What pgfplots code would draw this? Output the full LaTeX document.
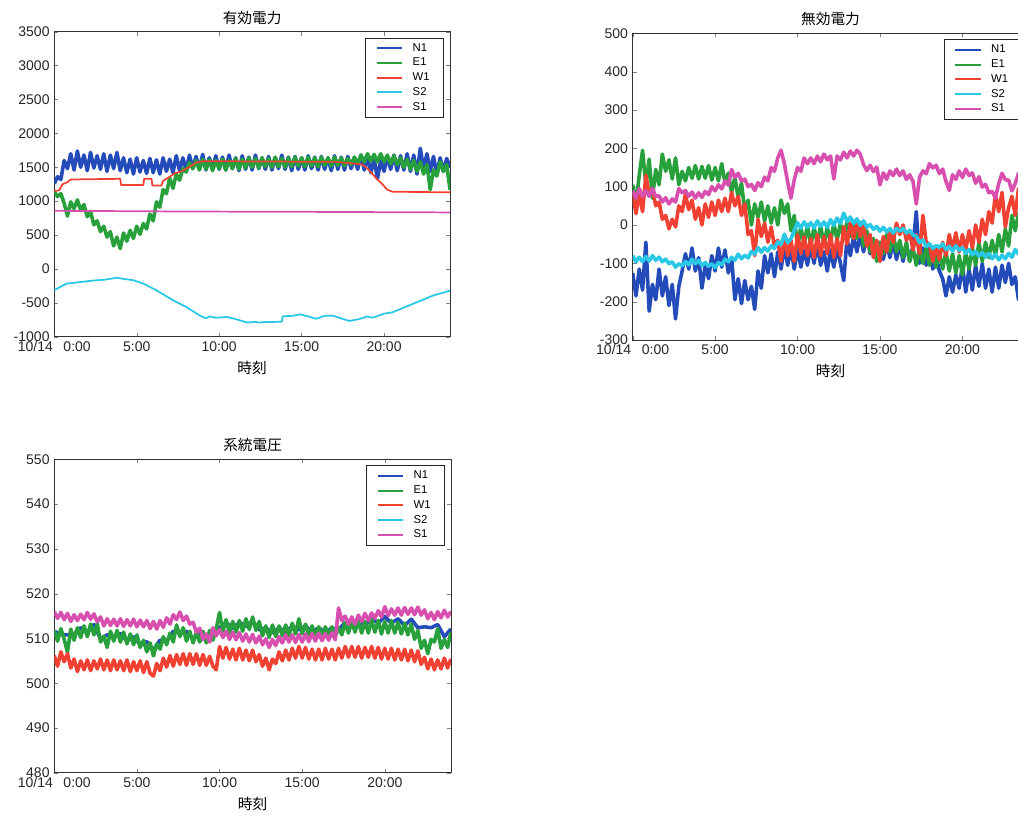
\documentclass[border=0pt]{standalone}
\usepackage{pgfplots}
\pgfplotsset{compat=1.18}
\usepackage{fontspec}
\setmainfont{Liberation Sans}
\newfontfamily\jp{Noto Sans CJK JP}
\definecolor{cN}{RGB}{35,75,185}
\definecolor{cE}{RGB}{40,160,60}
\definecolor{cW}{RGB}{240,65,50}
\definecolor{cS2}{RGB}{40,200,230}
\definecolor{cS1}{RGB}{215,80,175}
\pgfplotsset{
  noisy/.style={sharp plot, line width=2.7pt},
  smooth line/.style={line width=1.3pt},
  mystyle/.style={
    scale only axis,
    xmin=0, xmax=24,
    xtick={0,5,10,15,20},
    xticklabels={10/14\hspace{8pt}0:00,5:00,10:00,15:00,20:00},
    tick align=inside, major tick length=3pt,
    tick label style={font=\fontsize{10.5}{12}\selectfont, text=black!85},
    /pgf/number format/assume math mode=true,
    /pgf/number format/1000 sep={},
    axis line style={line width=0.6pt, black!80},
    xlabel={時刻},
    xlabel style={font=\jp\fontsize{11}{13}\selectfont},
    title style={font=\jp\fontsize{11}{13}\selectfont, yshift=-4pt},
    legend style={at={(1,1)}, anchor=north east, xshift=-5pt, yshift=-4.5pt,
      font=\fontsize{8.5}{10}\selectfont, draw=black!85,
      cells={anchor=west}, inner xsep=8pt, inner ysep=2pt, row sep=-0.3pt,
      column sep=5pt},
    legend image code/.code={\draw[#1] (0pt,0pt) -- (19pt,0pt);},
    every axis plot/.append style={line join=round},
    lg/.style={line width=1.5pt},
  }
}
\begin{document}
\begin{tikzpicture}
\useasboundingbox (0,0) rectangle (763.5pt,611.25pt);
% ---------------- 有効電力 ----------------
\begin{axis}[mystyle, at={(40.7pt,358.7pt)}, anchor=south west,
  width=296.8pt, height=228.75pt,
  ymin=-1000, ymax=3500, ytick={-1000,-500,...,3500},
  title={有効電力}]
\addlegendimage{color=cN, lg}\addlegendentry{N1}
\addlegendimage{color=cE, lg}\addlegendentry{E1}
\addlegendimage{color=cW, lg}\addlegendentry{W1}
\addlegendimage{color=cS2, lg}\addlegendentry{S2}
\addlegendimage{color=cS1, lg}\addlegendentry{S1}
\addplot[cN, noisy, forget plot] coordinates {(0,1260)(0.2,1360)(0.4,1320)(0.6,1600)(0.8,1480)(1.0,1700)(1.2,1460)(1.4,1740)(1.6,1500)(1.8,1680)(2.0,1450)(2.2,1720)(2.4,1490)(2.6,1670)(2.8,1470)(3.0,1700)(3.2,1440)(3.4,1680)(3.6,1480)(3.8,1720)(4.0,1450)(4.2,1640)(4.4,1420)(4.6,1620)(4.8,1400)(5.0,1640)(5.2,1430)(5.4,1600)(5.6,1410)(5.8,1630)(6.0,1420)(6.2,1610)(6.4,1400)(6.6,1640)(6.8,1440)(7.0,1620)(7.2,1420)(7.4,1670)(7.6,1450)(7.8,1640)(8.0,1460)(8.2,1680)(8.4,1480)(8.6,1660)(8.8,1470)(9.0,1690)(9.2,1460)(9.4,1640)(9.6,1480)(9.8,1670)(10.0,1470)(10.2,1650)(10.4,1460)(10.6,1680)(10.8,1480)(11.0,1640)(11.2,1450)(11.4,1670)(11.6,1470)(11.8,1650)(12.0,1460)(12.2,1680)(12.4,1480)(12.6,1640)(12.8,1470)(13.0,1660)(13.2,1460)(13.4,1640)(13.6,1480)(13.8,1680)(14.0,1470)(14.2,1650)(14.4,1450)(14.6,1660)(14.8,1470)(15.0,1640)(15.2,1460)(15.4,1670)(15.6,1480)(15.8,1650)(16.0,1460)(16.2,1660)(16.4,1470)(16.6,1640)(16.8,1450)(17.0,1670)(17.2,1470)(17.4,1650)(17.6,1460)(17.8,1660)(18.0,1480)(18.2,1640)(18.4,1470)(18.6,1680)(18.8,1460)(19.0,1650)(19.2,1420)(19.4,1620)(19.6,1330)(19.8,1600)(20.0,1440)(20.2,1660)(20.4,1470)(20.6,1680)(20.8,1450)(21.0,1670)(21.2,1460)(21.4,1700)(21.6,1440)(21.8,1680)(22.0,1400)(22.2,1780)(22.4,1470)(22.6,1700)(22.8,1440)(23.0,1660)(23.2,1400)(23.4,1640)(23.6,1440)(23.8,1630)(24.0,1500)};
\addplot[cE, noisy, forget plot] coordinates {(0,1140)(0.2,1070)(0.4,1110)(0.6,970)(0.8,780)(1.0,990)(1.2,890)(1.4,1020)(1.6,870)(1.8,950)(2.0,770)(2.2,850)(2.4,650)(2.6,710)(2.8,550)(3.0,630)(3.2,470)(3.4,550)(3.6,340)(3.8,470)(4.0,300)(4.2,530)(4.4,410)(4.6,570)(4.8,450)(5.0,630)(5.2,510)(5.4,670)(5.6,590)(5.8,810)(6.0,710)(6.2,990)(6.4,910)(6.6,1170)(6.8,1110)(7.0,1340)(7.2,1190)(7.4,1400)(7.6,1310)(7.8,1480)(8.0,1430)(8.2,1570)(8.4,1480)(8.6,1600)(8.8,1460)(9.0,1620)(9.2,1470)(9.4,1610)(9.6,1450)(9.8,1600)(10.0,1480)(10.2,1620)(10.4,1460)(10.6,1600)(10.8,1480)(11.0,1630)(11.2,1470)(11.4,1620)(11.6,1490)(11.8,1640)(12.0,1500)(12.2,1630)(12.4,1490)(12.6,1640)(12.8,1510)(13.0,1630)(13.2,1500)(13.4,1650)(13.6,1510)(13.8,1630)(14.0,1500)(14.2,1640)(14.4,1510)(14.6,1650)(14.8,1520)(15.0,1640)(15.2,1510)(15.4,1650)(15.6,1520)(15.8,1640)(16.0,1510)(16.2,1650)(16.4,1530)(16.6,1640)(16.8,1520)(17.0,1650)(17.2,1530)(17.4,1640)(17.6,1520)(17.8,1630)(18.0,1540)(18.2,1650)(18.4,1550)(18.6,1680)(18.8,1580)(19.0,1700)(19.2,1590)(19.4,1690)(19.6,1580)(19.8,1700)(20.0,1580)(20.2,1680)(20.4,1550)(20.6,1670)(20.8,1540)(21.0,1640)(21.2,1500)(21.4,1620)(21.6,1470)(21.8,1600)(22.0,1440)(22.2,1580)(22.4,1400)(22.6,1540)(22.8,1170)(23.0,1460)(23.2,1370)(23.4,1580)(23.6,1440)(23.8,1540)(24.0,1170)};
\addplot[cW, smooth line, forget plot] coordinates {(0,1150)(0.3,1160)(0.5,1250)(0.8,1280)(1.0,1320)(4.0,1330)(4.05,1240)(5.4,1240)(5.45,1330)(5.9,1330)(5.95,1230)(6.5,1230)(6.6,1300)(7.0,1360)(7.3,1410)(7.7,1440)(8.0,1480)(8.3,1520)(8.6,1570)(9.0,1590)(17.0,1580)(18.0,1560)(18.7,1540)(19.0,1480)(19.3,1400)(19.6,1320)(19.9,1250)(20.2,1170)(20.5,1140)(24,1130)};
\addplot[cS2, smooth line, forget plot] coordinates {(0,-315)(0.4,-260)(0.75,-216)(1.35,-200)(2.4,-170)(3.0,-160)(3.8,-130)(4.3,-150)(4.8,-167)(5.4,-216)(6.2,-315)(7.2,-462)(8.0,-560)(8.8,-684)(9.2,-730)(9.4,-700)(9.8,-720)(10.5,-708)(11.0,-740)(11.7,-790)(12.2,-780)(12.4,-790)(12.9,-782)(13.8,-780)(13.85,-700)(14.5,-690)(14.9,-670)(15.4,-700)(15.9,-735)(16.4,-690)(16.9,-690)(17.4,-730)(17.9,-767)(18.5,-740)(19.0,-700)(19.3,-720)(20.0,-660)(20.5,-640)(21.0,-590)(22.0,-490)(23.0,-390)(24,-320)};
\addplot[cS1, smooth line, forget plot] coordinates {(0,858)(2,855)(4,853)(6,850)(8,848)(10,846)(12,845)(14,843)(16,842)(18,840)(20,838)(22,836)(24,834)};
\end{axis}
% ---------------- 無効電力 ----------------
\begin{axis}[mystyle, at={(474.5pt,356.25pt)}, anchor=south west,
  width=296.8pt, height=230pt,
  ymin=-300, ymax=500, ytick={-300,-200,...,500},
  title={無効電力}]
\addlegendimage{color=cN, lg}\addlegendentry{N1}
\addlegendimage{color=cE, lg}\addlegendentry{E1}
\addlegendimage{color=cW, lg}\addlegendentry{W1}
\addlegendimage{color=cS2, lg}\addlegendentry{S2}
\addlegendimage{color=cS1, lg}\addlegendentry{S1}
\addplot[cN, noisy, forget plot] coordinates {(0,-125)(0.2,-185)(0.4,-115)(0.6,-170)(0.8,-45)(1.0,-225)(1.2,-155)(1.4,-195)(1.6,-115)(1.8,-185)(2.0,-135)(2.2,-210)(2.4,-155)(2.6,-245)(2.8,-160)(3.0,-120)(3.2,-75)(3.4,-115)(3.6,-60)(3.8,-120)(4.0,-85)(4.2,-165)(4.4,-105)(4.6,-140)(4.8,-80)(5.0,-120)(5.2,-60)(5.4,-110)(5.6,-65)(5.8,-125)(6.0,-85)(6.2,-195)(6.4,-140)(6.6,-205)(6.8,-145)(7.0,-195)(7.2,-160)(7.4,-220)(7.6,-120)(7.8,-165)(8.0,-80)(8.2,-125)(8.4,-75)(8.6,-135)(8.8,-70)(9.0,-115)(9.2,-55)(9.4,-105)(9.6,-60)(9.8,-115)(10.0,-60)(10.2,-110)(10.4,-65)(10.6,-105)(10.8,-55)(11.0,-100)(11.2,-50)(11.4,-105)(11.6,-70)(11.8,-120)(12.0,-65)(12.2,-110)(12.4,-60)(12.6,-100)(12.8,-145)(13.0,-35)(13.2,-80)(13.4,-30)(13.6,-70)(13.8,-25)(14.0,-70)(14.2,-25)(14.4,-75)(14.6,-40)(14.8,-85)(15.0,-45)(15.2,-90)(15.4,-45)(15.6,-85)(15.8,-45)(16.0,-90)(16.2,-50)(16.4,-95)(16.6,-50)(16.8,-95)(17.0,-55)(17.2,35)(17.4,-100)(17.6,-60)(17.8,-105)(18.0,-60)(18.2,-115)(18.4,-80)(18.6,-120)(18.8,-140)(19.0,-185)(19.2,-135)(19.4,-175)(19.6,-130)(19.8,-165)(20.0,-105)(20.2,-175)(20.4,-115)(20.6,-170)(20.8,-105)(21.0,-160)(21.2,-100)(21.4,-165)(21.6,-115)(21.8,-175)(22.0,-110)(22.2,-165)(22.4,-105)(22.6,-150)(22.8,-100)(23.0,-155)(23.2,-135)(23.4,-195)(23.6,-140)(23.8,-190)(24.0,-145)};
\addplot[cE, noisy, forget plot] coordinates {(0,105)(0.2,55)(0.4,130)(0.6,195)(0.8,105)(1.0,172)(1.2,70)(1.4,145)(1.6,105)(1.8,185)(2.0,140)(2.2,170)(2.4,120)(2.6,175)(2.8,105)(3.0,140)(3.2,115)(3.4,150)(3.6,122)(3.8,155)(4.0,120)(4.2,153)(4.4,122)(4.6,155)(4.8,117)(5.0,150)(5.2,115)(5.4,160)(5.6,110)(5.8,135)(6.0,85)(6.2,125)(6.4,70)(6.6,110)(6.8,35)(7.0,65)(7.2,0)(7.4,55)(7.6,20)(7.8,60)(8.0,10)(8.2,50)(8.4,5)(8.6,45)(8.8,0)(9.0,65)(9.2,30)(9.4,55)(9.6,-15)(9.8,25)(10.0,-60)(10.2,-5)(10.4,-50)(10.6,0)(10.8,-55)(11.0,-5)(11.2,-50)(11.4,0)(11.6,-55)(11.8,-5)(12.0,-45)(12.2,5)(12.4,-40)(12.6,5)(12.8,-35)(13.0,10)(13.2,-30)(13.4,10)(13.6,-35)(13.8,5)(14.0,-55)(14.2,-15)(14.4,-70)(14.6,-35)(14.8,-95)(15.0,-45)(15.2,-75)(15.4,-25)(15.6,-70)(15.8,-25)(16.0,-70)(16.2,-40)(16.4,-85)(16.6,-45)(16.8,-95)(17.0,-60)(17.2,-105)(17.4,-60)(17.6,-100)(17.8,-60)(18.0,-105)(18.2,-65)(18.4,-110)(18.6,-70)(18.8,-115)(19.0,-70)(19.2,-120)(19.4,-75)(19.6,-125)(19.8,-80)(20.0,-130)(20.2,-70)(20.4,-115)(20.6,-60)(20.8,-105)(21.0,-45)(21.2,-95)(21.4,-45)(21.6,-85)(21.8,-40)(22.0,-80)(22.2,-25)(22.4,-70)(22.6,-10)(22.8,-55)(23.0,25)(23.2,-15)(23.4,30)(23.6,-5)(23.8,35)(24.0,0)};
\addplot[cW, noisy, forget plot] coordinates {(0,85)(0.2,30)(0.4,80)(0.6,35)(0.8,130)(1.0,80)(1.2,95)(1.4,50)(1.6,60)(1.8,15)(2.0,25)(2.2,-10)(2.4,15)(2.6,-5)(2.8,50)(3.0,35)(3.2,80)(3.4,40)(3.6,65)(3.8,15)(4.0,45)(4.2,0)(4.4,55)(4.6,20)(4.8,60)(5.0,25)(5.2,65)(5.4,35)(5.6,70)(5.8,35)(6.0,85)(6.2,50)(6.4,75)(6.6,25)(6.8,55)(7.0,-25)(7.2,-15)(7.4,-80)(7.6,15)(7.8,-30)(8.0,5)(8.2,-45)(8.4,-5)(8.6,-55)(8.8,-40)(9.0,-95)(9.2,-30)(9.4,-80)(9.6,-40)(9.8,-95)(10.0,-25)(10.2,-75)(10.4,-30)(10.6,-80)(10.8,-35)(11.0,-85)(11.2,-25)(11.4,-80)(11.6,-30)(11.8,-75)(12.0,-25)(12.2,-85)(12.4,-35)(12.6,-80)(12.8,-5)(13.0,-50)(13.2,5)(13.4,-35)(13.6,15)(13.8,-30)(14.0,0)(14.2,-55)(14.4,-25)(14.6,-85)(14.8,-40)(15.0,-95)(15.2,-30)(15.4,-70)(15.6,-10)(15.8,-45)(16.0,5)(16.2,-25)(16.4,0)(16.6,-40)(16.8,-20)(17.0,-65)(17.2,-25)(17.4,-75)(17.6,25)(17.8,-45)(18.0,-50)(18.2,-95)(18.4,-55)(18.6,-90)(18.8,-45)(19.0,-80)(19.2,-25)(19.4,-65)(19.6,-20)(19.8,-70)(20.0,-25)(20.2,-65)(20.4,-15)(20.6,-60)(20.8,0)(21.0,-45)(21.2,15)(21.4,-25)(21.6,35)(21.8,5)(22.0,80)(22.2,35)(22.4,85)(22.6,-5)(22.8,45)(23.0,75)(23.2,25)(23.4,95)(23.6,45)(23.8,85)(24.0,55)};
\addplot[cS2, noisy, forget plot] coordinates {(0,-80)(0.2,-96)(0.4,-84)(0.6,-96)(0.8,-82)(1.0,-94)(1.2,-80)(1.4,-92)(1.6,-84)(1.8,-96)(2.0,-89)(2.2,-101)(2.4,-96)(2.6,-110)(2.8,-101)(3.0,-107)(3.2,-95)(3.4,-104)(3.6,-89)(3.8,-101)(4.0,-92)(4.2,-106)(4.4,-98)(4.6,-108)(4.8,-101)(5.0,-111)(5.2,-98)(5.4,-104)(5.6,-89)(5.8,-96)(6.0,-84)(6.2,-92)(6.4,-76)(6.6,-88)(6.8,-79)(7.0,-86)(7.2,-69)(7.4,-76)(7.6,-59)(7.8,-71)(8.0,-59)(8.2,-68)(8.4,-54)(8.6,-61)(8.8,-44)(9.0,-51)(9.2,-24)(9.4,-46)(9.6,-36)(9.8,-14)(10.0,6)(10.2,-8)(10.4,8)(10.6,-6)(10.8,6)(11.0,-8)(11.2,11)(11.4,-4)(11.6,8)(11.8,-6)(12.0,14)(12.2,-1)(12.4,18)(12.6,4)(12.8,31)(13.0,9)(13.2,21)(13.4,4)(13.6,16)(13.8,-1)(14.0,11)(14.2,-6)(14.4,1)(14.6,-11)(14.8,-4)(15.0,-16)(15.2,-6)(15.4,-18)(15.6,-9)(15.8,-21)(16.0,-9)(16.2,-16)(16.4,-9)(16.6,-21)(16.8,-14)(17.0,-26)(17.2,-29)(17.4,-46)(17.6,-39)(17.8,-56)(18.0,-49)(18.2,-61)(18.4,-54)(18.6,-58)(18.8,-49)(19.0,-64)(19.2,-56)(19.4,-68)(19.6,-54)(19.8,-66)(20.0,-59)(20.2,-74)(20.4,-64)(20.6,-78)(20.8,-69)(21.0,-81)(21.2,-72)(21.4,-84)(21.6,-74)(21.8,-88)(22.0,-76)(22.2,-91)(22.4,-79)(22.6,-88)(22.8,-74)(23.0,-84)(23.2,-64)(23.4,-76)(23.6,-59)(23.8,-71)(24.0,-64)};
\addplot[cS1, noisy, forget plot] coordinates {(0,90)(0.2,70)(0.4,95)(0.6,75)(0.8,90)(1.0,75)(1.2,95)(1.4,75)(1.6,76)(1.8,60)(2.0,71)(2.2,55)(2.4,68)(2.6,60)(2.8,95)(3.0,84)(3.2,90)(3.4,75)(3.6,86)(3.8,70)(4.0,84)(4.2,72)(4.4,88)(4.6,79)(4.8,100)(5.0,89)(5.2,105)(5.4,94)(5.6,115)(5.8,104)(6.0,145)(6.2,124)(6.4,135)(6.6,115)(6.8,120)(7.0,100)(7.2,106)(7.4,90)(7.6,110)(7.8,100)(8.0,125)(8.2,115)(8.4,150)(8.6,140)(8.8,175)(9.0,195)(9.2,160)(9.4,112)(9.6,70)(9.8,118)(10.0,150)(10.2,140)(10.4,175)(10.6,160)(10.8,175)(11.0,160)(11.2,180)(11.4,165)(11.6,185)(11.8,170)(12.0,180)(12.2,120)(12.4,180)(12.6,170)(12.8,190)(13.0,175)(13.2,193)(13.4,180)(13.6,195)(13.8,185)(14.0,158)(14.2,142)(14.4,156)(14.6,139)(14.8,151)(15.0,105)(15.2,136)(15.4,119)(15.6,141)(15.8,129)(16.0,146)(16.2,129)(16.4,141)(16.6,119)(16.8,131)(17.0,114)(17.2,55)(17.4,125)(17.6,141)(17.8,134)(18.0,160)(18.2,149)(18.4,156)(18.6,134)(18.8,146)(19.0,114)(19.2,90)(19.4,131)(19.6,119)(19.8,141)(20.0,124)(20.2,146)(20.4,129)(20.6,136)(20.8,109)(21.0,126)(21.2,99)(21.4,106)(21.6,84)(21.8,88)(22.0,70)(22.2,108)(22.4,135)(22.6,118)(22.8,117)(23.0,89)(23.2,108)(23.4,135)(23.6,113)(23.8,126)(24.0,103)};
\end{axis}
% ---------------- 系統電圧 ----------------
\begin{axis}[mystyle, at={(40.7pt,31.7pt)}, anchor=south west,
  width=297.5pt, height=235pt,
  ymin=480, ymax=550, ytick={480,490,...,550},
  title={系統電圧}]
\addlegendimage{color=cN, lg}\addlegendentry{N1}
\addlegendimage{color=cE, lg}\addlegendentry{E1}
\addlegendimage{color=cW, lg}\addlegendentry{W1}
\addlegendimage{color=cS2, lg}\addlegendentry{S2}
\addlegendimage{color=cS1, lg}\addlegendentry{S1}
\addplot[cN, noisy, forget plot] coordinates {(0,511.6)(0.4,510.9)(0.8,510.8)(1.2,510.9)(1.6,512.4)(2.0,511.4)(2.4,513.1)(2.8,509.9)(3.2,510.8)(3.6,510.4)(4.0,511.1)(4.4,509.4)(4.8,510.4)(5.2,508.6)(5.6,509.3)(6.0,507.4)(6.4,509.6)(6.8,509.4)(7.2,511.6)(7.6,511.2)(8.0,511.6)(8.4,509.9)(8.8,511.1)(9.2,510.2)(9.6,511.6)(10.0,512.4)(10.4,513.6)(10.8,512.2)(11.2,513.6)(11.6,512.7)(12.0,513.9)(12.4,511.9)(12.8,512.4)(13.2,511.2)(13.6,512.4)(14.0,511.4)(14.4,512.8)(14.8,511.9)(15.2,512.8)(15.6,511.4)(16.0,512.4)(16.4,511.2)(16.8,512.4)(17.2,511.9)(17.6,513.6)(18.0,512.9)(18.4,514.1)(18.8,512.9)(19.2,514.6)(19.6,513.4)(20.0,514.9)(20.4,513.4)(20.8,514.4)(21.2,512.9)(21.6,514.3)(22.0,512.4)(22.4,512.6)(22.8,512.4)(23.2,513.1)(23.6,510.4)(24.0,512.1)};
\addplot[cE, noisy, forget plot] coordinates {(0,511.8)(0.2,509.4)(0.4,512.2)(0.6,509.8)(0.8,506.9)(1.0,512.1)(1.2,509.6)(1.4,512.4)(1.6,510.2)(1.8,512.8)(2.0,510.4)(2.2,513.2)(2.4,510.8)(2.6,513.3)(2.8,509.2)(3.0,510.5)(3.2,508.0)(3.4,511.6)(3.6,509.4)(3.8,511.8)(4.0,509.2)(4.2,511.4)(4.4,508.8)(4.6,511.0)(4.8,508.6)(5.0,510.8)(5.2,508.0)(5.4,509.6)(5.6,507.0)(5.8,509.0)(6.0,506.1)(6.2,508.8)(6.4,507.6)(6.6,510.4)(6.8,508.6)(7.0,511.2)(7.2,509.2)(7.4,513.0)(7.6,510.4)(7.8,512.4)(8.0,509.4)(8.2,511.6)(8.4,509.0)(8.6,511.4)(8.8,509.2)(9.0,511.6)(9.2,509.0)(9.4,511.8)(9.6,509.6)(9.8,512.2)(10.0,515.8)(10.2,511.6)(10.4,514.2)(10.6,511.2)(10.8,513.8)(11.0,511.4)(11.2,514.0)(11.4,511.6)(11.6,514.4)(11.8,512.0)(12.0,514.8)(12.2,511.8)(12.4,513.8)(12.6,510.6)(12.8,512.8)(13.0,510.2)(13.2,513.0)(13.4,510.4)(13.6,512.8)(13.8,510.6)(14.0,513.0)(14.2,510.6)(14.4,513.4)(14.6,511.0)(14.8,514.4)(15.0,511.0)(15.2,513.2)(15.4,510.8)(15.6,512.8)(15.8,510.6)(16.0,512.6)(16.2,510.4)(16.4,512.6)(16.6,510.6)(16.8,512.6)(17.0,510.4)(17.2,512.4)(17.4,510.8)(17.6,513.6)(17.8,511.2)(18.0,513.8)(18.2,511.4)(18.4,514.0)(18.6,511.2)(18.8,513.8)(19.0,511.2)(19.2,514.2)(19.4,511.4)(19.6,514.0)(19.8,511.0)(20.0,513.8)(20.2,511.2)(20.4,514.0)(20.6,511.2)(20.8,513.6)(21.0,511.0)(21.2,513.4)(21.4,510.8)(21.6,513.2)(21.8,509.8)(22.0,511.8)(22.2,507.8)(22.4,509.6)(22.6,506.6)(22.8,509.8)(23.0,509.2)(23.2,512.2)(23.4,507.8)(23.6,509.8)(23.8,508.0)(24.0,511.4)};
\addplot[cW, noisy, forget plot] coordinates {(0,506.2)(0.2,503.8)(0.4,507.0)(0.6,504.8)(0.8,506.6)(1.0,503.4)(1.2,505.4)(1.4,502.6)(1.6,505.0)(1.8,503.0)(2.0,505.2)(2.2,502.8)(2.4,505.0)(2.6,503.2)(2.8,505.4)(3.0,503.0)(3.2,505.2)(3.4,502.8)(3.6,505.2)(3.8,503.0)(4.0,505.0)(4.2,502.8)(4.4,505.2)(4.6,502.6)(4.8,504.8)(5.0,502.8)(5.2,505.0)(5.4,502.4)(5.6,504.8)(5.8,502.2)(6.0,501.6)(6.2,504.4)(6.4,502.8)(6.6,505.6)(6.8,503.6)(7.0,506.2)(7.2,503.8)(7.4,506.4)(7.6,504.2)(7.8,506.6)(8.0,504.0)(8.2,506.6)(8.4,504.2)(8.6,506.6)(8.8,504.0)(9.0,506.4)(9.2,504.0)(9.4,506.0)(9.6,503.8)(9.8,503.0)(10.0,508.2)(10.2,505.6)(10.4,508.0)(10.6,505.4)(10.8,507.6)(11.0,505.2)(11.2,507.8)(11.4,505.2)(11.6,507.4)(11.8,505.0)(12.0,507.4)(12.2,504.8)(12.4,506.4)(12.6,503.8)(12.8,505.6)(13.0,503.0)(13.2,505.4)(13.4,504.4)(13.6,507.0)(13.8,505.0)(14.0,507.4)(14.2,505.2)(14.4,507.8)(14.6,505.6)(14.8,508.2)(15.0,505.6)(15.2,508.0)(15.4,505.4)(15.6,507.6)(15.8,505.2)(16.0,507.6)(16.2,505.2)(16.4,507.8)(16.6,505.4)(16.8,507.6)(17.0,505.2)(17.2,507.8)(17.4,505.6)(17.6,508.2)(17.8,505.8)(18.0,508.2)(18.2,505.8)(18.4,508.2)(18.6,505.6)(18.8,508.0)(19.0,505.8)(19.2,508.2)(19.4,505.6)(19.6,508.0)(19.8,505.4)(20.0,507.8)(20.2,505.4)(20.4,507.8)(20.6,505.2)(20.8,507.6)(21.0,505.2)(21.2,507.6)(21.4,505.0)(21.6,507.4)(21.8,504.8)(22.0,507.2)(22.2,504.2)(22.4,505.8)(22.6,503.2)(22.8,505.4)(23.0,503.0)(23.2,505.2)(23.4,503.2)(23.6,505.6)(23.8,503.4)(24.0,505.4)};
\addplot[cS1, noisy, forget plot] coordinates {(0,516.0)(0.2,514.5)(0.4,515.8)(0.6,514.2)(0.8,515.6)(1.0,513.8)(1.2,515.3)(1.4,514.0)(1.6,515.4)(1.8,514.2)(2.0,515.8)(2.2,514.3)(2.4,515.5)(2.6,513.7)(2.8,514.8)(3.0,512.8)(3.2,514.4)(3.4,512.9)(3.6,514.3)(3.8,512.8)(4.0,514.4)(4.2,512.7)(4.4,514.2)(4.6,512.8)(4.8,514.3)(5.0,512.6)(5.2,514.1)(5.4,512.6)(5.6,514.0)(5.8,512.2)(6.0,513.8)(6.2,512.1)(6.4,514.0)(6.6,512.5)(6.8,514.6)(7.0,513.2)(7.2,515.3)(7.4,514.2)(7.6,515.9)(7.8,514.0)(8.0,515.0)(8.2,513.2)(8.4,513.6)(8.6,511.4)(8.8,512.3)(9.0,509.8)(9.2,511.0)(9.4,509.2)(9.6,512.4)(9.8,510.6)(10.0,512.0)(10.2,510.2)(10.4,511.6)(10.6,509.8)(10.8,511.4)(11.0,509.7)(11.2,511.3)(11.4,509.4)(11.6,511.0)(11.8,509.2)(12.0,510.9)(12.2,509.0)(12.4,510.5)(12.6,508.6)(12.8,509.9)(13.0,508.0)(13.2,509.8)(13.4,508.4)(13.6,510.4)(13.8,509.0)(14.0,510.8)(14.2,509.2)(14.4,510.8)(14.6,509.1)(14.8,510.9)(15.0,509.2)(15.2,511.0)(15.4,509.3)(15.6,511.1)(15.8,509.4)(16.0,511.2)(16.2,509.5)(16.4,511.1)(16.6,509.6)(16.8,511.3)(17.0,509.7)(17.2,516.8)(17.4,514.0)(17.6,515.0)(17.8,513.2)(18.0,514.8)(18.2,513.2)(18.4,515.2)(18.6,513.8)(18.8,515.6)(19.0,514.0)(19.2,515.7)(19.4,514.5)(19.6,516.2)(19.8,514.8)(20.0,517.1)(20.2,515.1)(20.4,516.6)(20.6,515.2)(20.8,516.8)(21.0,515.2)(21.2,516.9)(21.4,515.4)(21.6,516.8)(21.8,515.3)(22.0,517.0)(22.2,515.2)(22.4,516.4)(22.6,514.4)(22.8,515.8)(23.0,514.2)(23.2,516.0)(23.4,514.6)(23.6,516.3)(23.8,514.8)(24.0,516.0)};
\end{axis}
\end{tikzpicture}
\end{document}
